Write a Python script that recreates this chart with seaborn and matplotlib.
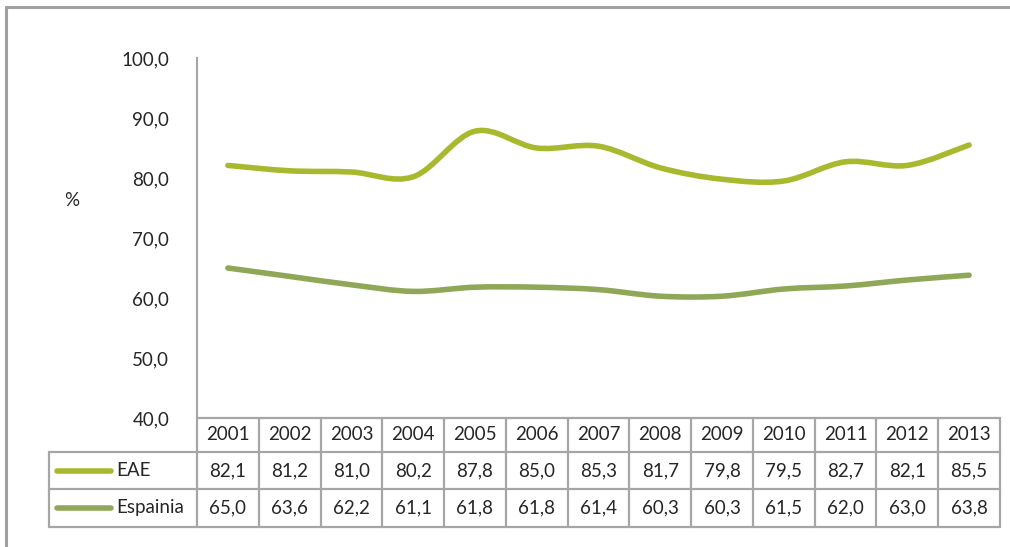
import numpy as np
import seaborn as sns
import matplotlib.pyplot as plt
from matplotlib.path import Path
from matplotlib.patches import PathPatch
from matplotlib.lines import Line2D
from matplotlib.transforms import blended_transform_factory

years = ["2001", "2002", "2003", "2004", "2005", "2006", "2007",
         "2008", "2009", "2010", "2011", "2012", "2013"]
eae = [82.1, 81.2, 81.0, 80.2, 87.8, 85.0, 85.3, 81.7, 79.8, 79.5, 82.7, 82.1, 85.5]
espainia = [65.0, 63.6, 62.2, 61.1, 61.8, 61.8, 61.4, 60.3, 60.3, 61.5, 62.0, 63.0, 63.8]
series_names = ["EAE", "Espainia"]
series_colors = ["#A8B92E", "#8FA857"]
y_ticks = [40, 50, 60, 70, 80, 90, 100]

sns.set_theme(style="white")
plt.rcParams["font.family"] = ["Lato", "DejaVu Sans"]
FS = 13.5
GRID = "#A6A6A6"

W, H = 1010, 547
fig = plt.figure(figsize=(W / 100, H / 100), dpi=100)
ax = fig.add_axes([197 / W, (H - 418) / H, 803 / W, 360 / H])


def smooth_path(xs, ys):
    # Excel-style smoothed line: Catmull-Rom turned into cubic Bezier segments
    pts = np.column_stack([xs, ys]).astype(float)
    verts = [pts[0]]
    codes = [Path.MOVETO]
    n = len(pts)
    for i in range(n - 1):
        p0 = pts[i - 1] if i > 0 else pts[i]
        p1, p2 = pts[i], pts[i + 1]
        p3 = pts[i + 2] if i + 2 < n else pts[i + 1]
        c1 = p1 + (p2 - p0) / 6
        c2 = p2 - (p3 - p1) / 6
        verts += [c1, c2, p2]
        codes += [Path.CURVE4] * 3
    return Path(verts, codes)


x = np.arange(len(years))
for vals, col in zip([eae, espainia], series_colors):
    ax.add_patch(PathPatch(smooth_path(x, vals), facecolor="none", edgecolor=col,
                           lw=4, capstyle="round", joinstyle="round"))

ax.set_xlim(-0.5, len(years) - 0.5)
ax.set_ylim(40, 100)
ax.set_yticks(y_ticks)
ax.set_yticklabels([f"{v:.1f}".replace(".", ",") for v in y_ticks], fontsize=FS)
ax.set_xticks([])
ax.tick_params(axis="y", length=0, pad=20)
for s in ["top", "right", "bottom"]:
    ax.spines[s].set_visible(False)
ax.spines["left"].set_color(GRID)
ax.spines["left"].set_linewidth(1.5)
ax.text((72 - 197) / 803, (418 - 201) / 360, "%", transform=ax.transAxes,
        fontsize=FS, ha="center", va="center")

# data table under the plot
tr = blended_transform_factory(ax.transData, ax.transAxes)
ax_px = 360
r0, r1, r2, r3 = 0, -34 / ax_px, -71 / ax_px, -109 / ax_px
left_ax = (49 - 197) / 803
lw_t = 1.6

# horizontal lines
ax.plot([-0.5, len(years) - 0.5], [r0, r0], transform=tr, color=GRID, lw=lw_t, clip_on=False)
for r in [r1, r2, r3]:
    ax.plot([left_ax, 1], [r, r], transform=ax.transAxes, color=GRID, lw=lw_t, clip_on=False)
# vertical lines
for i in range(len(years) + 1):
    ax.plot([i - 0.5, i - 0.5], [r0, r3], transform=tr, color=GRID, lw=lw_t, clip_on=False)
ax.plot([left_ax, left_ax], [r1, r3], transform=ax.transAxes, color=GRID, lw=lw_t, clip_on=False)

for i, yr in enumerate(years):
    ax.text(i, (r0 + r1) / 2, yr, transform=tr, ha="center", va="center", fontsize=FS)
rows = [(r1, r2), (r2, r3)]
for (ra, rb), vals, name, col in zip(rows, [eae, espainia], series_names, series_colors):
    ym = (ra + rb) / 2
    for i, v in enumerate(vals):
        ax.text(i, ym, f"{v:.1f}".replace(".", ","), transform=tr,
                ha="center", va="center", fontsize=FS)
    lx0 = (57 - 197) / 803
    lx1 = (111 - 197) / 803
    ax.plot([lx0, lx1], [ym, ym], transform=ax.transAxes, color=col, lw=4,
            solid_capstyle="round", clip_on=False)
    ax.text((116 - 197) / 803, ym, name, transform=ax.transAxes, ha="left",
            va="center", fontsize=FS)

# outer chart border (top and left visible)
fig.add_artist(Line2D([6 / W, 1], [1 - 7 / H, 1 - 7 / H], color="#A0A0A0", lw=2.2))
fig.add_artist(Line2D([6 / W, 6 / W], [0, 1 - 7 / H], color="#A0A0A0", lw=2.2))

fig.savefig("out.png", dpi=100)
